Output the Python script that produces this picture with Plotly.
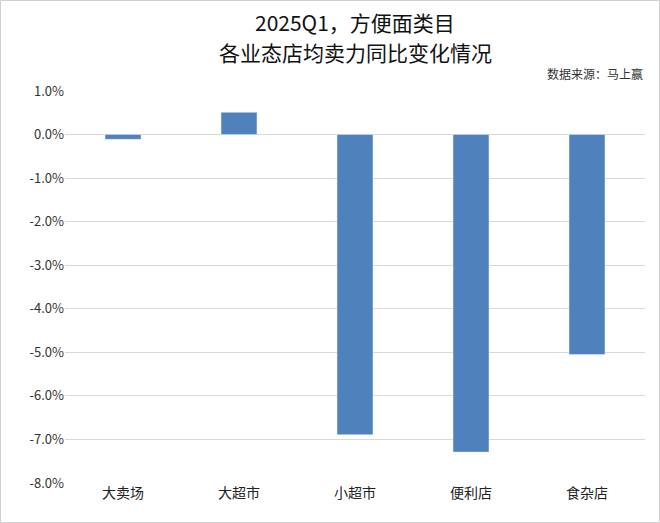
import plotly.graph_objects as go

# 各业态店均卖力同比变化
categories = ["大卖场", "大超市", "小超市", "便利店", "食杂店"]
yoy_change = [-0.0011, 0.0051, -0.0689, -0.0729, -0.0505]

tick_vals = [0.01, 0.0, -0.01, -0.02, -0.03, -0.04, -0.05, -0.06, -0.07, -0.08]
tick_text = ["1.0%", "0.0%", "-1.0%", "-2.0%", "-3.0%", "-4.0%", "-5.0%", "-6.0%", "-7.0%", "-8.0%"]

cjk = "Noto Sans CJK SC"

fig = go.Figure()
fig.add_trace(go.Bar(
    x=categories,
    y=yoy_change,
    marker_color="#4f81bd",
    width=0.31,
))

fig.update_layout(
    width=660, height=523,
    margin=dict(l=65, r=15, t=91, b=40),
    paper_bgcolor="white",
    plot_bgcolor="white",
    showlegend=False,
    font=dict(family=cjk, color="#333333"),
    xaxis=dict(
        tickfont=dict(size=14, color="#222222"),
        showgrid=False,
        showline=False,
        ticks="",
    ),
    yaxis=dict(
        range=[-0.08, 0.01],
        tickvals=tick_vals,
        ticktext=tick_text,
        tickfont=dict(size=13, color="#333333"),
        showgrid=True,
        gridcolor="#d9d9d9",
        zeroline=True,
        zerolinecolor="#d9d9d9",
        zerolinewidth=1,
        ticks="",
        showline=False,
    ),
    annotations=[
        dict(text="2025Q1，方便面类目", x=0.5, y=22, xref="paper", yref="paper",
             showarrow=False, font=dict(size=21, color="#111111", family=cjk)),
        dict(text="各业态店均卖力同比变化情况", x=0.5, y=52, xref="paper", yref="paper",
             showarrow=False, font=dict(size=21, color="#111111", family=cjk)),
        dict(text="数据来源：马上赢", x=1.0, y=73, xref="paper", yref="paper",
             xanchor="right", showarrow=False, font=dict(size=12, color="#333333", family=cjk)),
    ],
    shapes=[
        dict(type="rect", xref="paper", yref="paper",
             x0=-64.5 / 580, x1=1 + 14.5 / 580, y0=-39.5 / 392, y1=1 + 90.5 / 392,
             line=dict(color="#d0d0d0", width=1)),
    ],
)

# annotation y values above are pixel rows from the top; convert to paper coords
for a in fig.layout.annotations:
    a.y = 1 + (91 - a.y) / 392
    a.yanchor = "middle"

# page has a default body margin; drop it so the figure sits at the window edge
fig.write_html("out.html", config={"displayModeBar": False},
               post_script="document.body.style.margin='0';")
